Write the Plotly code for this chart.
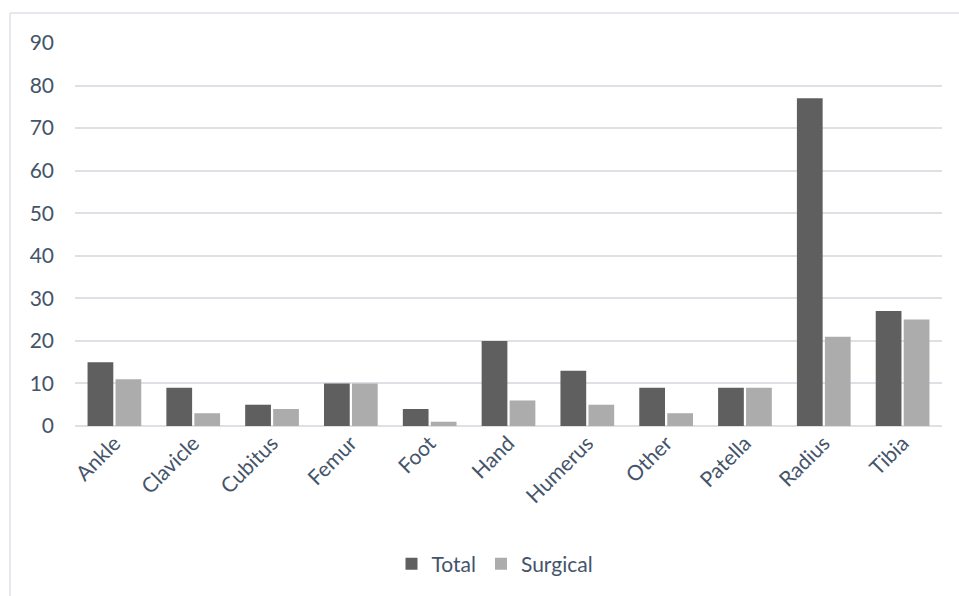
import plotly.graph_objects as go

categories = ["Ankle", "Clavicle", "Cubitus", "Femur", "Foot", "Hand", "Humerus", "Other", "Patella", "Radius", "Tibia"]
total = [15, 9, 5, 10, 4, 20, 13, 9, 9, 77, 27]
surgical = [11, 3, 4, 10, 1, 6, 5, 3, 9, 21, 25]
y_ticks = [0, 10, 20, 30, 40, 50, 60, 70, 80, 90]

font_family = "Lato, 'Open Sans', sans-serif"
text_color = "#44546A"
fs = 21

fig = go.Figure()
fig.add_trace(go.Bar(name="Total", x=categories, y=total,
                     marker=dict(color="#5f5f5f", line=dict(width=0))))
fig.add_trace(go.Bar(name="Surgical", x=categories, y=surgical,
                     marker=dict(color="#acacac", line=dict(width=0))))

L, R, T, B = 75, 17, 43, 170
W, H = 959, 596
pw = W - L - R
ph = H - T - B

def px(x):
    return (x - L) / pw

def py(y):
    return (H - B - y) / ph

fig.update_layout(
    width=W, height=H,
    margin=dict(l=L, r=R, t=T, b=B),
    paper_bgcolor="white", plot_bgcolor="white",
    barmode="group", bargap=0.29, bargroupgap=0.08,
    font=dict(family=font_family, color=text_color, size=fs),
    legend=dict(orientation="h", x=px(495), xanchor="center", y=py(564), yanchor="middle",
                font=dict(size=fs, color=text_color), traceorder="normal",
                itemwidth=30, itemsizing="constant"),
    xaxis=dict(tickangle=-45, showgrid=False, showline=False, ticks="",
               tickfont=dict(size=fs, color=text_color)),
    yaxis=dict(range=[0, 90], tickvals=y_ticks, showgrid=True, gridcolor="#dde1e6",
               gridwidth=1.5, zeroline=True, zerolinecolor="#dde1e6", zerolinewidth=1.5,
               ticks="", tickfont=dict(size=fs, color=text_color), ticklabelstandoff=20),
    shapes=[
        dict(type="line", xref="paper", yref="paper",
             x0=px(10), x1=px(10), y0=py(600), y1=py(13),
             line=dict(color="#dde1e6", width=1.5)),
        dict(type="line", xref="paper", yref="paper",
             x0=px(10), x1=px(W + 5), y0=py(13), y1=py(13),
             line=dict(color="#dde1e6", width=1.5)),
    ],
)

fig.write_html("out.html")
